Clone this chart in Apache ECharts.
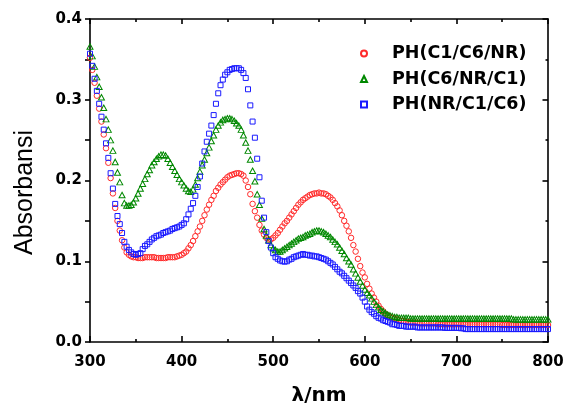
<!DOCTYPE html>
<html>
<head>
<meta charset="utf-8">
<script src="https://cdn.jsdelivr.net/npm/echarts@6/dist/echarts.min.js"></script>
<style>
html,body{margin:0;padding:0;background:#fff;}
#chart{width:574px;height:410px;}
</style>
</head>
<body>
<div id="chart"></div>
<script>
// wavelength grid (nm), 2.5 nm step
const wavelength = [];
for (let i = 0; i <= 200; i++) wavelength.push(300 + 2.5 * i);

const seriesNames = ['PH(C1/C6/NR)', 'PH(C6/NR/C1)', 'PH(NR/C1/C6)'];
const xTicks = [300, 400, 500, 600, 700, 800];
const yTicks = [0.0, 0.1, 0.2, 0.3, 0.4];

const absC1C6NR = [
0.352,0.337,0.321,0.305,0.289,0.273,0.257,0.240,0.222,0.203,
0.184,0.166,0.150,0.138,0.126,0.117,0.111,0.108,0.106,0.105,
0.105,0.104,0.104,0.104,0.105,0.105,0.105,0.105,0.105,0.104,
0.104,0.104,0.104,0.104,0.105,0.105,0.105,0.105,0.106,0.107,
0.108,0.110,0.112,0.116,0.120,0.125,0.131,0.137,0.143,0.150,
0.157,0.164,0.170,0.176,0.181,0.187,0.191,0.195,0.198,0.201,
0.204,0.206,0.207,0.208,0.209,0.209,0.208,0.206,0.200,0.192,
0.183,0.171,0.162,0.154,0.145,0.138,0.133,0.129,0.127,0.127,
0.129,0.132,0.135,0.139,0.143,0.147,0.150,0.154,0.158,0.162,
0.166,0.170,0.173,0.176,0.178,0.180,0.182,0.183,0.184,0.184,
0.185,0.184,0.184,0.183,0.181,0.179,0.176,0.172,0.168,0.163,
0.157,0.150,0.144,0.137,0.129,0.120,0.112,0.103,0.094,0.086,
0.080,0.072,0.066,0.060,0.055,0.050,0.045,0.041,0.038,0.035,
0.033,0.031,0.030,0.029,0.028,0.027,0.026,0.026,0.025,0.025,
0.024,0.024,0.024,0.024,0.023,0.023,0.023,0.023,0.023,0.023,
0.023,0.023,0.022,0.022,0.022,0.022,0.022,0.022,0.022,0.022,
0.022,0.022,0.022,0.022,0.022,0.022,0.022,0.022,0.022,0.022,
0.022,0.022,0.022,0.022,0.022,0.022,0.022,0.022,0.022,0.022,
0.021,0.021,0.021,0.021,0.021,0.021,0.021,0.021,0.021,0.021,
0.021,0.021,0.021,0.021,0.021,0.021,0.021,0.021,0.021,0.021,
0.021
];

const absC6NRC1 = [
0.366,0.354,0.341,0.328,0.316,0.303,0.290,0.276,0.263,0.250,
0.237,0.223,0.210,0.198,0.182,0.172,0.169,0.169,0.170,0.173,
0.178,0.184,0.190,0.196,0.202,0.208,0.213,0.219,0.223,0.227,
0.230,0.232,0.232,0.231,0.227,0.222,0.217,0.212,0.207,0.202,
0.198,0.194,0.190,0.187,0.186,0.189,0.195,0.203,0.211,0.219,
0.226,0.234,0.241,0.249,0.256,0.263,0.268,0.272,0.275,0.276,
0.277,0.277,0.276,0.274,0.271,0.268,0.263,0.256,0.247,0.237,
0.226,0.212,0.199,0.183,0.170,0.153,0.140,0.132,0.126,0.120,
0.116,0.114,0.112,0.112,0.114,0.116,0.118,0.120,0.122,0.124,
0.126,0.128,0.129,0.130,0.132,0.133,0.134,0.136,0.137,0.138,
0.138,0.137,0.136,0.134,0.132,0.130,0.127,0.124,0.121,0.117,
0.113,0.109,0.104,0.100,0.096,0.090,0.085,0.080,0.075,0.070,
0.065,0.061,0.058,0.054,0.050,0.046,0.043,0.040,0.038,0.036,
0.034,0.033,0.032,0.031,0.031,0.030,0.030,0.030,0.030,0.030,
0.029,0.029,0.029,0.029,0.029,0.029,0.029,0.029,0.029,0.029,
0.029,0.029,0.029,0.029,0.029,0.029,0.029,0.029,0.029,0.029,
0.029,0.029,0.029,0.029,0.029,0.029,0.029,0.029,0.029,0.029,
0.029,0.029,0.029,0.029,0.029,0.029,0.029,0.029,0.029,0.029,
0.029,0.029,0.029,0.029,0.029,0.028,0.028,0.028,0.028,0.028,
0.028,0.028,0.028,0.028,0.028,0.028,0.028,0.028,0.028,0.028,
0.028
];

const absNRC1C6 = [
0.357,0.342,0.326,0.311,0.295,0.279,0.263,0.246,0.228,0.209,
0.190,0.171,0.156,0.146,0.135,0.124,0.118,0.114,0.111,0.109,
0.108,0.109,0.110,0.115,0.119,0.121,0.124,0.127,0.129,0.131,
0.132,0.133,0.135,0.136,0.137,0.138,0.140,0.141,0.142,0.143,
0.145,0.147,0.152,0.158,0.165,0.172,0.181,0.192,0.205,0.221,
0.236,0.248,0.258,0.268,0.281,0.295,0.308,0.318,0.325,0.331,
0.334,0.337,0.338,0.339,0.339,0.339,0.337,0.333,0.327,0.313,
0.293,0.273,0.253,0.227,0.204,0.175,0.154,0.136,0.125,0.117,
0.110,0.105,0.103,0.101,0.100,0.0995,0.100,0.102,0.103,0.105,
0.106,0.107,0.108,0.109,0.108,0.108,0.107,0.107,0.106,0.106,
0.105,0.104,0.103,0.102,0.100,0.098,0.096,0.093,0.090,0.087,
0.085,0.082,0.079,0.076,0.073,0.070,0.067,0.063,0.060,0.055,
0.050,0.044,0.040,0.037,0.035,0.032,0.030,0.029,0.027,0.026,
0.025,0.024,0.022,0.022,0.021,0.020,0.020,0.020,0.019,0.019,
0.019,0.019,0.019,0.018,0.018,0.018,0.018,0.018,0.018,0.018,
0.018,0.018,0.018,0.018,0.018,0.0175,0.0175,0.0175,0.0175,0.0175,
0.0175,0.0175,0.017,0.017,0.016,0.016,0.016,0.016,0.016,0.016,
0.016,0.016,0.016,0.016,0.016,0.016,0.016,0.016,0.016,0.016,
0.016,0.016,0.016,0.016,0.016,0.016,0.016,0.016,0.016,0.016,
0.016,0.016,0.016,0.016,0.016,0.016,0.016,0.016,0.016,0.016,
0.016
];

const colors = ['#ff2a2a', '#008800', '#1a1aff'];
const symbols = ['circle', 'triangle', 'rect'];
const sizes = [5.5, [6, 5.5], 5];
const values = [absC1C6NR, absC6NRC1, absNRC1C6];

const boldFont = 'DejaVu Sans';
const chart = echarts.init(document.getElementById('chart'), null, {renderer: 'canvas'});

const axisLineStyle = {color: '#000', width: 1.6};

const option = {
  animation: false,
  backgroundColor: '#fff',
  grid: {left: 90, right: 26, top: 19, bottom: 68, containLabel: false, outerBoundsMode: 'none'},
  legend: {
    orient: 'vertical',
    left: 360,
    top: 44.5,
    padding: 0,
    itemWidth: 6,
    itemHeight: 6,
    itemGap: 7.5,
    itemTextGap: 6,
    data: seriesNames,
    textStyle: {fontFamily: boldFont, fontWeight: 'bold', fontSize: 17.5, color: '#000', lineHeight: 17,
      padding: [0, 0, 0, 20]}
  },
  xAxis: [
    {
      type: 'value', position: 'bottom', min: xTicks[0], max: xTicks[xTicks.length - 1], interval: 100,
      name: 'λ/nm', nameLocation: 'middle', nameGap: 44,
      nameTextStyle: {fontFamily: boldFont, fontWeight: 'bold', fontSize: 20, color: '#000'},
      axisLine: {show: true, onZero: false, lineStyle: axisLineStyle},
      axisTick: {show: true, inside: true, length: 6, lineStyle: {color: '#000', width: 1.6}},
      minorTick: {show: true, splitNumber: 2, length: 3, lineStyle: {color: '#000', width: 1.6}},
      axisLabel: {margin: 13, fontFamily: boldFont, fontWeight: 'bold', fontSize: 15, color: '#000'},
      splitLine: {show: false}
    },
    {
      type: 'value', position: 'top', min: xTicks[0], max: xTicks[xTicks.length - 1], interval: 100,
      axisLine: {show: true, onZero: false, lineStyle: axisLineStyle},
      axisTick: {show: true, inside: true, length: 5, lineStyle: {color: '#000', width: 1.6}},
      minorTick: {show: true, splitNumber: 2, length: 3, lineStyle: {color: '#000', width: 1.6}},
      axisLabel: {show: false},
      splitLine: {show: false}
    }
  ],
  yAxis: [
    {
      type: 'value', position: 'left', min: yTicks[0], max: yTicks[yTicks.length - 1], interval: 0.1,
      name: 'Absorbansi', nameLocation: 'middle', nameGap: 52, nameRotate: 90,
      nameTextStyle: {fontFamily: 'Liberation Sans', fontSize: 25, color: '#000', padding: [0, 24, 0, 0]},
      axisLine: {show: true, onZero: false, lineStyle: axisLineStyle},
      axisTick: {show: true, inside: false, length: 5, lineStyle: {color: '#000', width: 1.6}},
      minorTick: {show: true, splitNumber: 2, length: 5, lineStyle: {color: '#000', width: 1.6}},
      axisLabel: {margin: 8, fontFamily: boldFont, fontWeight: 'bold', fontSize: 15, color: '#000',
        formatter: v => v.toFixed(1)},
      splitLine: {show: false}
    },
    {
      type: 'value', position: 'right', min: yTicks[0], max: yTicks[yTicks.length - 1], interval: 0.1,
      axisLine: {show: true, onZero: false, lineStyle: axisLineStyle},
      axisTick: {show: true, inside: true, length: 5.5, lineStyle: {color: '#000', width: 1.6}},
      minorTick: {show: true, splitNumber: 2, length: 2.5, lineStyle: {color: '#000', width: 1.6}},
      axisLabel: {show: false},
      splitLine: {show: false}
    }
  ],
  series: seriesNames.map((name, k) => ({
    name: name,
    type: 'scatter',
    xAxisIndex: 0,
    yAxisIndex: 0,
    symbol: symbols[k],
    symbolSize: sizes[k],
    itemStyle: {color: 'rgba(255,255,255,0)', borderColor: colors[k], borderWidth: 1, opacity: 1},
    emphasis: {disabled: true},
    data: wavelength.map((x, i) => [x, values[k][i]])
  }))
};
chart.setOption(option);
</script>
</body>
</html>
